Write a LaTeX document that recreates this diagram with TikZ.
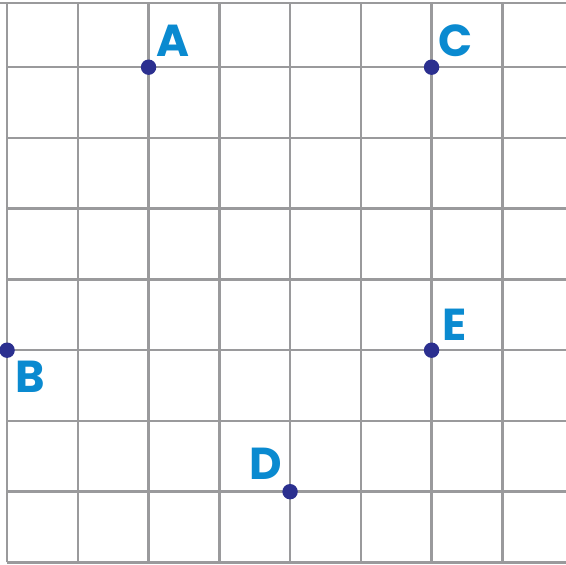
\documentclass[tikz,border=0pt]{standalone}
\usepackage{fontspec}
\setsansfont{Poppins}
\usetikzlibrary{positioning,calc}
\definecolor{GridGrey}{HTML}{9A9A9C}
\definecolor{DotNavy}{HTML}{2B2F8F}
\definecolor{LabelBlue}{HTML}{0A8AD0}
\tikzset{
  pt/.style={circle,fill=DotNavy,inner sep=0pt,minimum size=6.2pt},
  lbl/.style={text=LabelBlue,font=\sffamily\bfseries\fontsize{18}{18}\selectfont,inner sep=0pt}
}

\begin{document}
\begin{tikzpicture}
\useasboundingbox (-0.1,-0.03) rectangle (7.9,7.95);
% grid
\foreach \x in {0,...,7}
  \draw[GridGrey,line width=1pt] (\x,0)--(\x,7.91);
\foreach \y in {0,...,7}
  \draw[GridGrey,line width=1pt] (0,\y)--(7.95,\y);
\draw[GridGrey,line width=1pt] (-0.1,7.91)--(7.95,7.91);
% points
\node[pt] (A) at (2,7) {};
\node[pt] (C) at (6,7) {};
\node[pt] (B) at (0,3) {};
\node[pt] (E) at (6,3) {};
\node[pt] (D) at (4,1) {};
\node[lbl] at ($(A)+(0.35,0.37)$) {A};
\node[lbl] at ($(C)+(0.34,0.37)$) {C};
\node[lbl] at ($(B)+(0.33,-0.38)$) {B};
\node[lbl] at ($(E)+(0.33,0.36)$) {E};
\node[lbl] at ($(D)+(-0.34,0.40)$) {D};
\end{tikzpicture}
\end{document}
